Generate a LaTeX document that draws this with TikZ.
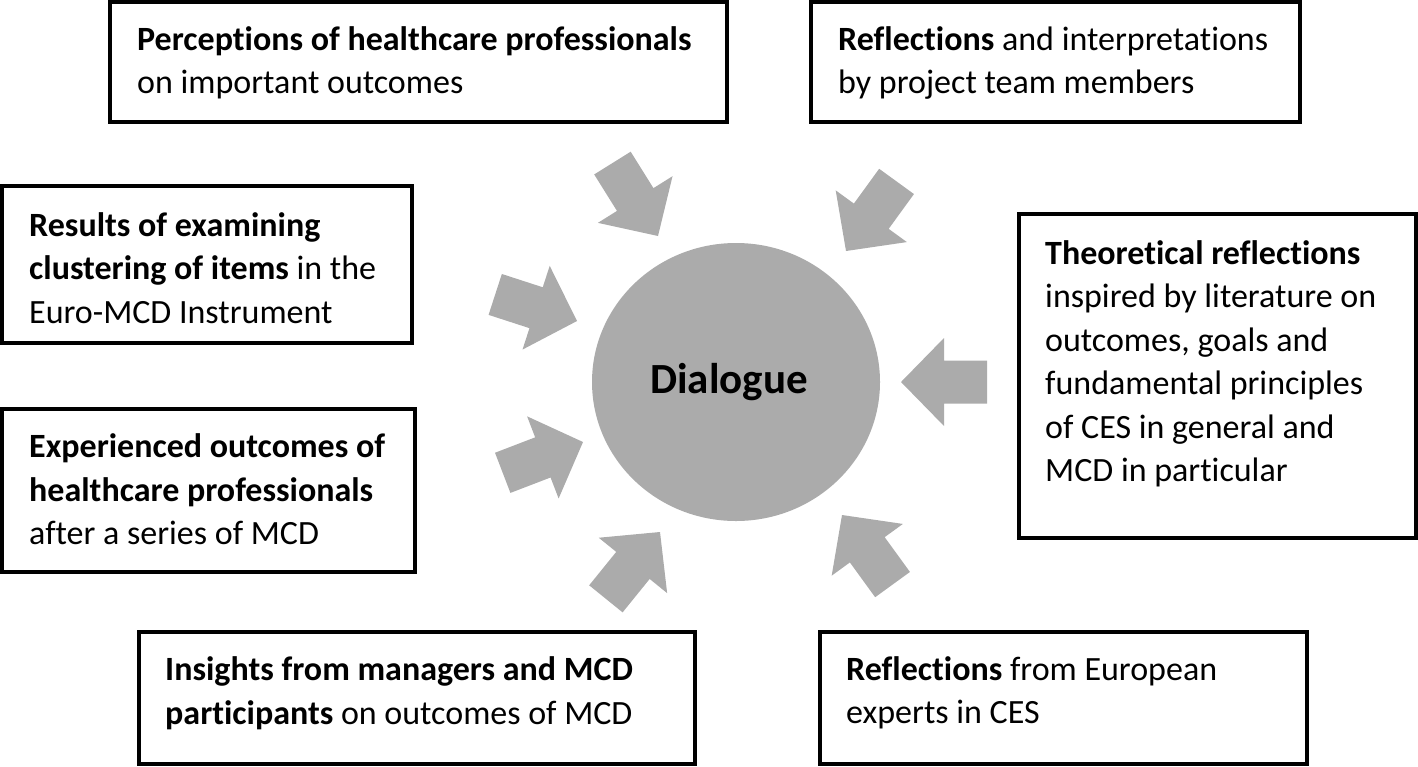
\documentclass[tikz,border=0pt]{standalone}
\usepackage{fontspec}
\setmainfont{Carlito}[Ligatures=NoCommon]
\usetikzlibrary{positioning, shapes.geometric}
\definecolor{arrowgray}{RGB}{171,171,171}

\begin{document}
\begin{tikzpicture}[
    x=1pt, y=-1pt,
    srcbox/.style={draw, line width=4pt, inner sep=0pt},
    boxtext/.style={align=left, inner sep=0pt, font=\fontsize{34}{43.5}\selectfont},
    hub/.style={ellipse, fill=arrowgray, minimum width=288pt, minimum height=278pt},
    inarrow/.pic={\fill[arrowgray] (0,0) -- (-43,44) -- (-43,21.5) -- (-86,21.5) -- (-86,-21.5) -- (-43,-21.5) -- (-43,-44) -- cycle;}
]
    \useasboundingbox (0,0) rectangle (1418,766);

    % Centre
    \node[hub] (dialogue) at (736,382) {};
    \node[font=\fontsize{43}{50}\selectfont\bfseries, left=7pt of dialogue.center, anchor=center] (dialogue-t) {Dialogue};

    % Source boxes
    \node[srcbox, minimum width=617pt, minimum height=120pt] (percep) at (418.5,62) {};
    \node[srcbox, minimum width=489pt, minimum height=120pt] (team) at (1055.5,62) {};
    \node[srcbox, minimum width=410pt, minimum height=157pt] (cluster) at (207,264.5) {};
    \node[srcbox, minimum width=413pt, minimum height=163pt] (experienced) at (208.5,490.5) {};
    \node[srcbox, minimum width=397pt, minimum height=324pt] (theory) at (1217.5,376) {};
    \node[srcbox, minimum width=556pt, minimum height=132pt] (insights) at (417,698) {};
    \node[srcbox, minimum width=487pt, minimum height=132pt] (experts) at (1063.5,698) {};

    % Box texts
    \node[boxtext, right=29pt of percep.west, yshift=-1pt] (percep-t)
        {\textbf{Perceptions of healthcare professionals}\\on important outcomes};
    \node[boxtext, right=29pt of team.west, yshift=-1pt] (team-t)
        {\textbf{Reflections} and interpretations\\by project team members};
    \node[boxtext, right=29pt of cluster.west, yshift=-3.5pt] (cluster-t)
        {\textbf{Results of examining}\\\textbf{clustering of items} in the\\Euro-MCD Instrument};
    \node[boxtext, right=29pt of experienced.west, yshift=1pt] (experienced-t)
        {\textbf{Experienced outcomes of}\\\textbf{healthcare professionals}\\after a series of MCD};
    \node[boxtext, right=28pt of theory.west, yshift=12pt] (theory-t)
        {\textbf{Theoretical reflections}\\inspired by literature on\\outcomes, goals and\\fundamental principles\\of CES in general and\\MCD in particular};
    \node[boxtext, right=28pt of insights.west, yshift=5pt] (insights-t)
        {\textbf{Insights from managers and MCD}\\\textbf{participants} on outcomes of MCD};
    \node[boxtext, right=28pt of experts.west, yshift=5pt] (experts-t)
        {\textbf{Reflections} from European\\experts in CES};

    % Arrows into the dialogue
    \pic[rotate=-58] at (658,236) {inarrow};
    \pic[rotate=-126] at (846,251) {inarrow};
    \pic[rotate=-18] at (577,321) {inarrow};
    \pic[rotate=21] at (583,442) {inarrow};
    \pic[rotate=51] at (660,532) {inarrow};
    \pic[rotate=126] at (842,515) {inarrow};
    \pic[rotate=180] at (901,382) {inarrow};
\end{tikzpicture}
\end{document}
